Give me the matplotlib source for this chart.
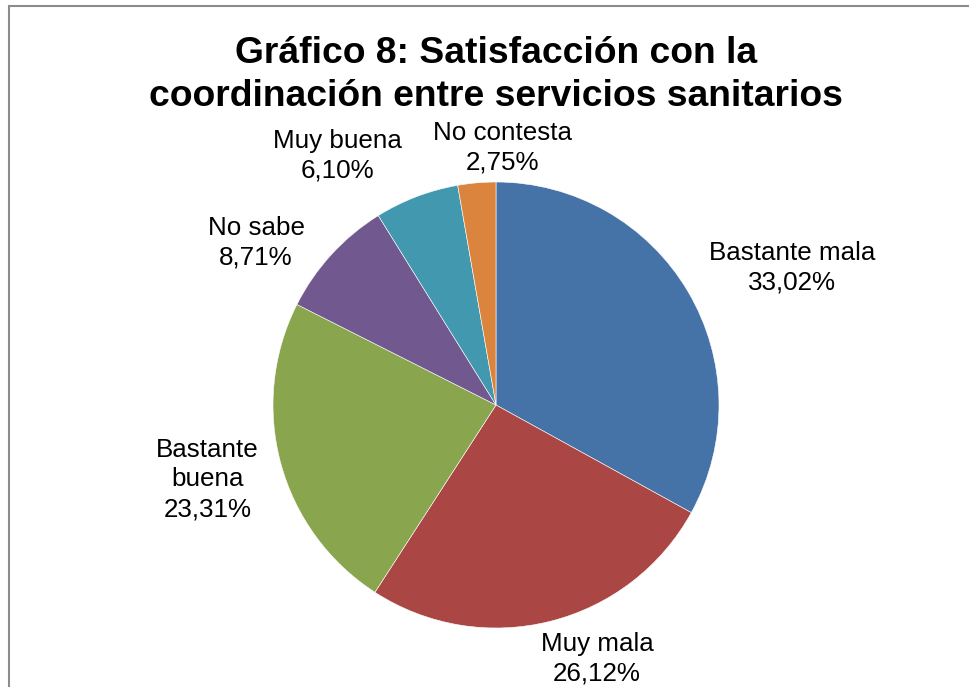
import matplotlib
matplotlib.use("Agg")
import matplotlib.pyplot as plt
import matplotlib.patches as mpatches

plt.rcParams['font.family'] = ['Liberation Sans', 'DejaVu Sans']

# data
categories = ["Bastante mala", "Muy mala", "Bastante\nbuena", "No sabe", "Muy buena", "No contesta"]
values = [33.02, 26.12, 23.31, 8.71, 6.10, 2.75]
colors = ["#4572A7", "#AA4643", "#89A54E", "#71588F", "#4198AF", "#DB843D"]

# label placement (in pie radii, relative to centre) - layout only
label_pos = [(1.327, 0.614), (0.453, -1.139), (-1.294, -0.334),
             (-1.076, 0.727), (-0.713, 1.119), (0.031, 1.155)]

W, H = 969, 687
fig = plt.figure(figsize=(W / 100, H / 100), dpi=100)

# frame around the chart area (runs off right and bottom edges)
frame = mpatches.Rectangle((9 / W, -0.05), 1.1, 1 - 6 / H + 0.05, transform=fig.transFigure,
                           fill=False, edgecolor="#8c8c8c", linewidth=1.5)
fig.patches.append(frame)

# pie centre and radius in pixels
cx, cy, r = 496, 405, 223
ax = fig.add_axes([(cx - r) / W, (H - cy - r) / H, 2 * r / W, 2 * r / H])
ax.pie(values, colors=colors, startangle=90, counterclock=False, radius=1,
       wedgeprops=dict(edgecolor="white", linewidth=0.4))
ax.set_xlim(-1, 1)
ax.set_ylim(-1, 1)
ax.set_aspect("equal")
ax.axis("off")

for cat, val, (lx, ly) in zip(categories, values, label_pos):
    txt = f"{cat}\n{val:.2f}%".replace(".", ",")
    ax.text(lx, ly, txt, ha="center", va="center", fontsize=18.7,
            linespacing=1.3, clip_on=False)

fig.text(496 / W, 1 - 75 / H,
         "Gráfico 8: Satisfacción con la\ncoordinación entre servicios sanitarios",
         ha="center", va="center", fontsize=26.8, fontweight="bold", linespacing=1.32)

fig.savefig("out.png", dpi=100)
